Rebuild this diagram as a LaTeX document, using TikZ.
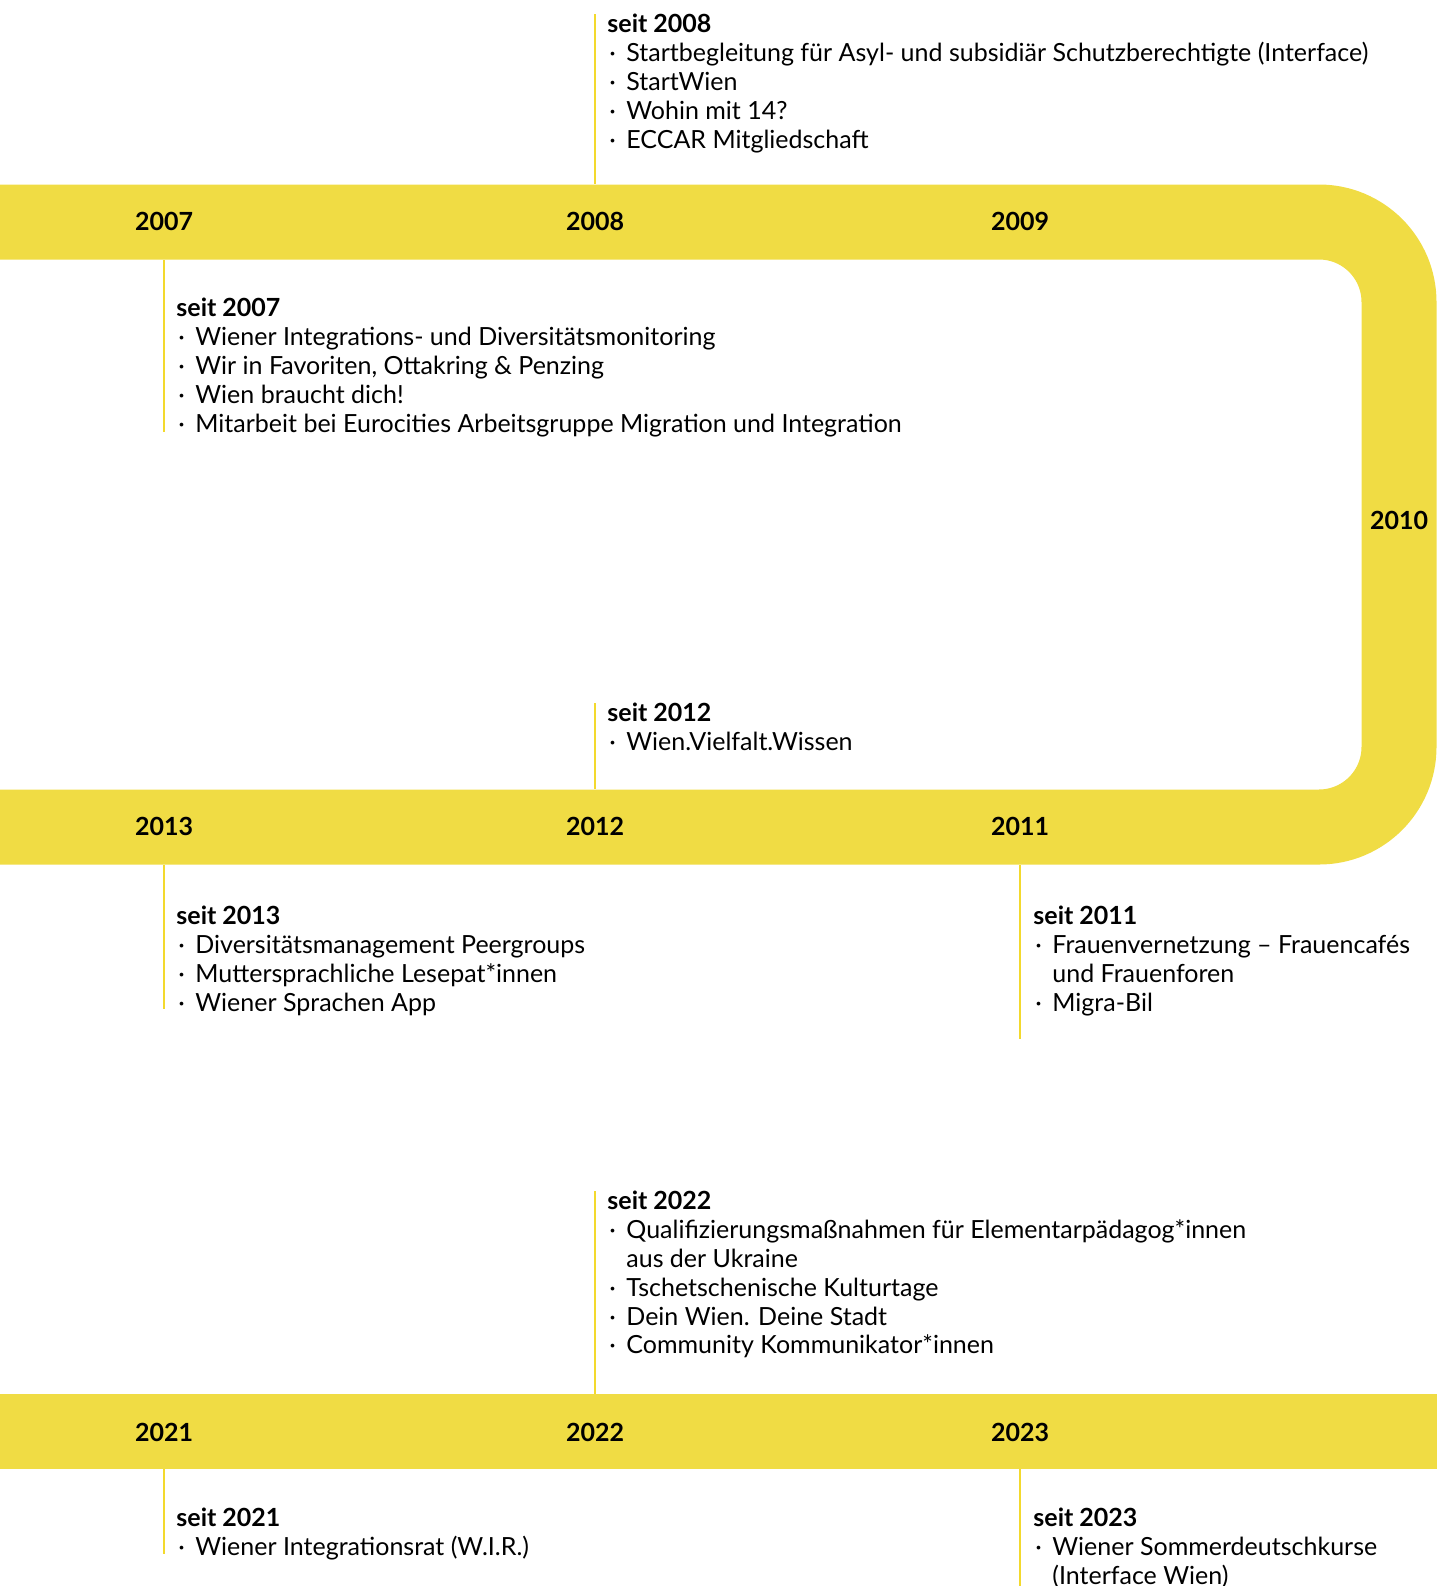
\documentclass[tikz,border=0pt]{standalone}
\usepackage{fontspec}
\setmainfont{Lato}
\usepackage{xcolor}
\definecolor{wienYellow}{RGB}{240,220,68}
\definecolor{stemYellow}{RGB}{243,217,45}
\usetikzlibrary{positioning}
\tikzstyle{band} = [draw=wienYellow, line width=37.5pt]
\tikzstyle{year} = [inner sep=0pt, font=\bfseries\fontsize{12.5}{15}\selectfont]
\tikzstyle{entry} = [anchor=north west, align=left, inner sep=0pt, font=\fontsize{12.5}{14.4}\selectfont]
\tikzstyle{stem} = [draw=stemYellow, line width=0.75pt]
\newcommand{\itm}{\makebox[9.5pt][l]{\hspace{1pt}·}}
\newcommand{\cnt}{\hspace{9.5pt}}

\begin{document}
\begin{tikzpicture}[x=0.5pt, y=-0.5pt]
        \useasboundingbox (0,0) rectangle (1437,1586);
        % band edges and stem ends
        \coordinate (b1n) at (0,184);
        \coordinate (b1s) at (0,260);
        \coordinate (b2n) at (0,789);
        \coordinate (b2s) at (0,865);
        \coordinate (b3n) at (0,1394);
        \coordinate (b3s) at (0,1469);
        \coordinate (e2007) at (0,432);
        \coordinate (e2013) at (0,1009);
        \coordinate (e2011) at (0,1039);
        \coordinate (e2021) at (0,1554);
        \coordinate (e2023) at (0,1586);

        % The yellow band first
        \draw [band, rounded corners=40pt] (0,222) -- (1399,222) -- (1399,827) -- (0,827);
        \draw [band] (0,1431.5) -- (1437,1431.5);

        % Then the years on it
        \node [year] (y2007) at (164,221) {2007};
        \node [year] (y2008) at (595,221) {2008};
        \node [year] (y2009) at (1020,221) {2009};
        \node [year] (y2010) at (1399,520) {2010};
        \node [year] (y2011) at (1020,826) {2011};
        \node [year] (y2012) at (595,826) {2012};
        \node [year] (y2013) at (164,826) {2013};
        \node [year] (y2021) at (164,1432) {2021};
        \node [year] (y2022) at (595,1432) {2022};
        \node [year] (y2023) at (1020,1432) {2023};

        % The entries
        \node [entry] (t2008) at (607,14) {\textbf{seit 2008}\\
            \itm Startbegleitung für Asyl- und subsidiär Schutzberechtigte (Interface)\\
            \itm StartWien\\
            \itm Wohin mit 14?\\
            \itm ECCAR Mitgliedschaft};
        \node [entry] (t2007) at (176,298) {\textbf{seit 2007}\\
            \itm Wiener Integrations- und Diversitätsmonitoring\\
            \itm Wir in Favoriten, Ottakring \& Penzing\\
            \itm Wien braucht dich!\\
            \itm Mitarbeit bei Eurocities Arbeitsgruppe Migration und Integration};
        \node [entry] (t2012) at (607,703) {\textbf{seit 2012}\\
            \itm Wien.Vielfalt.Wissen};
        \node [entry] (t2013) at (176,906) {\textbf{seit 2013}\\
            \itm Diversitätsmanagement Peergroups\\
            \itm Muttersprachliche Lesepat*innen\\
            \itm Wiener Sprachen App};
        \node [entry] (t2011) at (1033,906) {\textbf{seit 2011}\\
            \itm Frauenvernetzung – Frauencafés\\
            \cnt und Frauenforen\\
            \itm Migra-Bil};
        \node [entry] (t2022) at (607,1191) {\textbf{seit 2022}\\
            \itm Qualifizierungsmaßnahmen für Elementarpädagog*innen\\
            \cnt aus der Ukraine\\
            \itm Tschetschenische Kulturtage\\
            \itm Dein Wien. Deine Stadt\\
            \itm Community Kommunikator*innen};
        \node [entry] (t2021) at (176,1508) {\textbf{seit 2021}\\
            \itm Wiener Integrationsrat (W.I.R.)};
        \node [entry] (t2023) at (1033,1508) {\textbf{seit 2023}\\
            \itm Wiener Sommerdeutschkurse\\
            \cnt (Interface Wien)};

        % Stems from the band to the entries
        \draw [stem] (y2008 |- t2008.north) -- (y2008 |- b1n);
        \draw [stem] (y2007 |- b1s) -- (y2007 |- e2007);
        \draw [stem] (y2012 |- t2012.north) -- (y2012 |- b2n);
        \draw [stem] (y2013 |- b2s) -- (y2013 |- e2013);
        \draw [stem] (y2011 |- b2s) -- (y2011 |- e2011);
        \draw [stem] (y2022 |- t2022.north) -- (y2022 |- b3n);
        \draw [stem] (y2021 |- b3s) -- (y2021 |- e2021);
        \draw [stem] (y2023 |- b3s) -- (y2023 |- e2023);
\end{tikzpicture}
\end{document}
